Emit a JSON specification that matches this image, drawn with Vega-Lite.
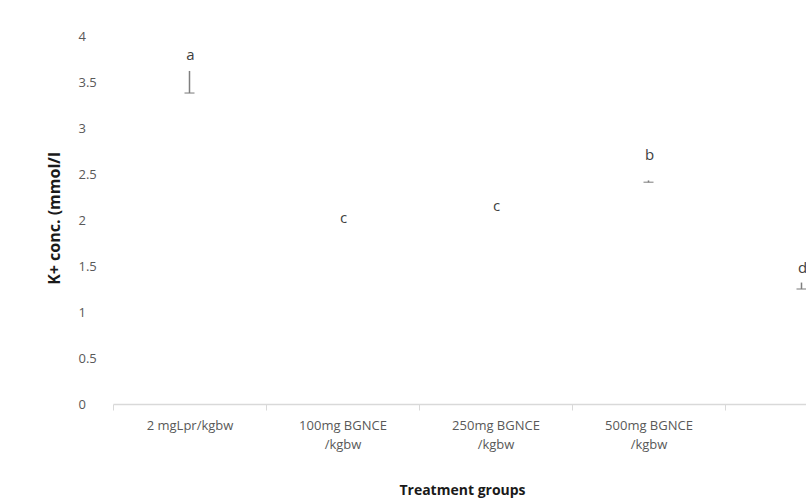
{
  "$schema": "https://vega.github.io/schema/vega-lite/v6.json",
  "autosize": "none",
  "width": 765,
  "height": 368,
  "padding": {"left": 113, "top": 36, "right": 0, "bottom": 98},
  "background": "white",
  "config": {
    "view": {"stroke": null},
    "font": "Open Sans"
  },
  "data": {
    "values": [
      {"group": "2 mgLpr/kgbw", "value": 3.5, "lo": 3.38, "hi": 3.62, "letter": "a", "letterY": 3.79},
      {"group": "100mg BGNCE|/kgbw", "value": 1.8, "lo": null, "hi": null, "letter": "c", "letterY": 2.02},
      {"group": "250mg BGNCE|/kgbw", "value": 1.95, "lo": null, "hi": null, "letter": "c", "letterY": 2.15},
      {"group": "500mg BGNCE|/kgbw", "value": 2.42, "lo": 2.41, "hi": 2.43, "letter": "b", "letterY": 2.71},
      {"group": "1000mg BGNCE|/kgbw", "value": 1.28, "lo": 1.25, "hi": 1.32, "letter": "d", "letterY": 1.48}
    ]
  },
  "encoding": {
    "x": {
      "field": "group",
      "type": "nominal",
      "sort": null,
      "scale": {"paddingInner": 0, "paddingOuter": 0},
      "axis": {
        "title": "Treatment  groups",
        "titleFont": "Open Sans",
        "titleFontSize": 14,
        "titleFontWeight": "bold",
        "titleColor": "#1a1a1a",
        "titleX": 349,
        "titleY": 79,
        "labelAngle": 0,
        "labelExpr": "datum.value == '1000mg BGNCE|/kgbw' ? '' : split(datum.label, '|')",
        "labelFont": "Open Sans",
        "labelFontSize": 13,
        "labelColor": "#595959",
        "labelPadding": 9,
        "labelLineHeight": 19,
        "tickBand": "extent",
        "tickColor": "#d9d9d9",
        "tickSize": 6,
        "domainColor": "#d9d9d9",
        "domainWidth": 1.5
      }
    }
  },
  "layer": [
    {
      "mark": {"type": "bar", "opacity": 0, "width": 60},
      "encoding": {
        "y": {
          "field": "value",
          "type": "quantitative",
          "scale": {"domain": [0, 4], "nice": false},
          "axis": {
            "title": "K+ conc. (mmol/l",
            "titleFont": "Open Sans",
            "titleFontSize": 16,
            "titleFontWeight": "bold",
            "titleColor": "#1a1a1a",
            "titleX": -51,
            "titleY": 182,
            "values": [0, 0.5, 1, 1.5, 2, 2.5, 3, 3.5, 4],
            "format": ".1~f",
            "labelFont": "Open Sans",
            "labelFontSize": 13,
            "labelColor": "#595959",
            "labelAlign": "left",
            "labelPadding": 35,
            "ticks": false,
            "tickSize": 0,
            "domain": false,
            "grid": false
          }
        }
      }
    },
    {
      "mark": {"type": "rule", "color": "#7f7f7f", "strokeWidth": 1.5},
      "encoding": {
        "y": {"field": "lo", "type": "quantitative"},
        "y2": {"field": "hi"}
      }
    },
    {
      "mark": {"type": "tick", "color": "#7f7f7f", "orient": "horizontal", "size": 10, "thickness": 1.5},
      "encoding": {
        "y": {"field": "lo", "type": "quantitative"}
      }
    },
    {
      "mark": {"type": "text", "font": "Open Sans", "fontSize": 15, "color": "#404040", "baseline": "middle", "dx": 1},
      "encoding": {
        "y": {"field": "letterY", "type": "quantitative"},
        "text": {"field": "letter"}
      }
    }
  ]
}
